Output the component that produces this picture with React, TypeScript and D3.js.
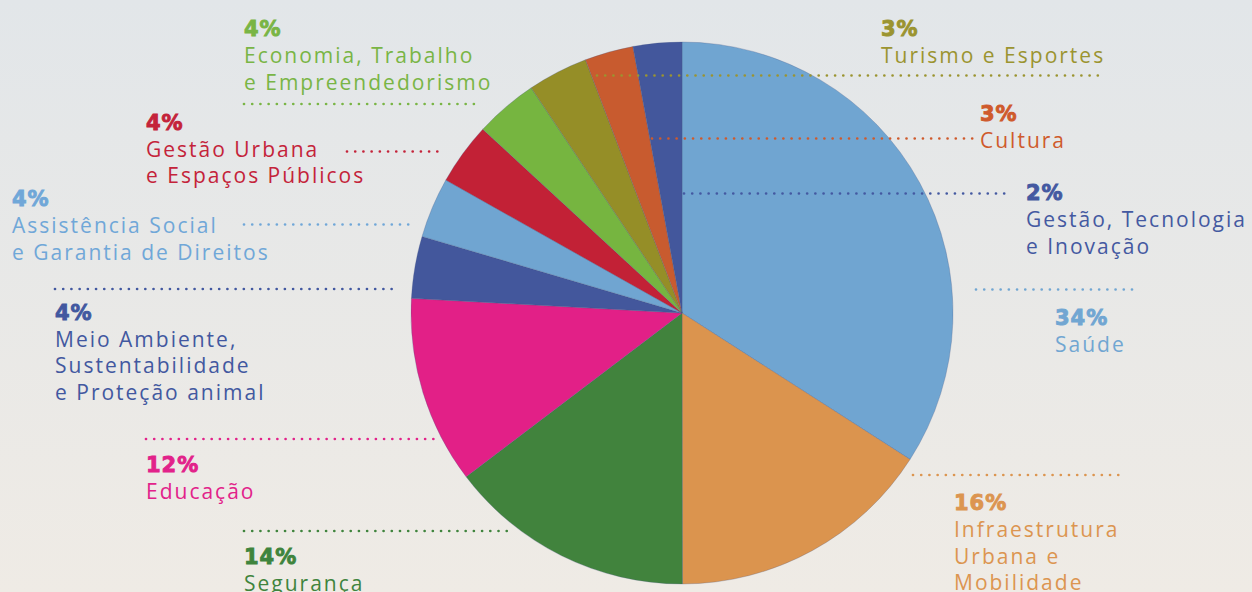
import React from "react";
import * as d3 from "d3";

const categories = [
  "Saúde",
  "Infraestrutura Urbana e Mobilidade",
  "Segurança",
  "Educação",
  "Meio Ambiente, Sustentabilidade e Proteção animal",
  "Assistência Social e Garantia de Direitos",
  "Gestão Urbana e Espaços Públicos",
  "Economia, Trabalho e Empreendedorismo",
  "Turismo e Esportes",
  "Cultura",
  "Gestão, Tecnologia e Inovação",
];
// slice shares as drawn
const shares = [34.1, 15.9, 14.7, 11.2, 3.7, 3.6, 3.7, 3.75, 3.6, 2.9, 2.9];
const pctLabels = ["34%", "16%", "14%", "12%", "4%", "4%", "4%", "4%", "3%", "3%", "2%"];
const labelLines = [
  ["Saúde"],
  ["Infraestrutura", "Urbana e", "Mobilidade"],
  ["Segurança"],
  ["Educação"],
  ["Meio Ambiente,", "Sustentabilidade", "e Proteção animal"],
  ["Assistência Social", "e Garantia de Direitos"],
  ["Gestão Urbana", "e Espaços Públicos"],
  ["Economia, Trabalho", "e Empreendedorismo"],
  ["Turismo e Esportes"],
  ["Cultura"],
  ["Gestão, Tecnologia", "e Inovação"],
];

const sliceColors = [
  "#70a5d1", "#db944e", "#41833d", "#e22087", "#43579c", "#70a5d1",
  "#c22136", "#76b540", "#958e27", "#c85b2f", "#43579c",
];
const textColors = [
  "#71a6d2", "#dc9550", "#3f843d", "#e2228a", "#4258a0", "#70a7d8",
  "#c4233a", "#79b545", "#9b9430", "#cf5a2c", "#4459a1",
];

// layout: label anchor (x, pct baseline y), leader line (x1, x2, y)
const layout = [
  { x: 1055, y: 325, line: [976, 1133, 289.5] },
  { x: 954, y: 510, line: [913, 1125, 475] },
  { x: 244, y: 563.5, line: [244, 508, 531] },
  { x: 146, y: 472, line: [146, 437, 439] },
  { x: 55, y: 319.5, line: [55, 396, 289] },
  { x: 12, y: 206, line: [244, 412, 224.5] },
  { x: 146, y: 129.5, line: [347, 443, 151.5] },
  { x: 244, y: 36, line: [244, 481, 104] },
  { x: 881, y: 36, line: [597, 1101, 75.5] },
  { x: 980, y: 120.5, line: [652, 975, 138.5] },
  { x: 1026, y: 200, line: [684, 1008, 193.5] },
];

const W = 1252;
const H = 592;
const cx = 682;
const cy = 313;
const R = 271;
const LINE_H = 26.5;

export default function App() {
  const pie = d3.pie<number>().sort(null).value((d) => d)(shares);
  const arc = d3.arc<d3.PieArcDatum<number>>().innerRadius(0).outerRadius(R);

  return (
    <svg
      width={W}
      height={H}
      style={{ position: "absolute", left: 0, top: 0, display: "block" }}
      fontFamily="'Open Sans', Lato, sans-serif"
    >
      <defs>
        <linearGradient id="bg" x1="0" y1="0" x2="0" y2="1">
          <stop offset="0" stopColor="#e2e6e9" />
          <stop offset="1" stopColor="#efebe5" />
        </linearGradient>
      </defs>
      <rect width={W} height={H} fill="url(#bg)" />
      <g transform={`translate(${cx},${cy})`}>
        {pie.map((p, i) => (
          <path
            key={i}
            d={arc(p) || ""}
            fill={sliceColors[i]}
            stroke="rgba(70,85,130,0.45)"
            strokeWidth={0.6}
          />
        ))}
      </g>
      {layout.map((l, i) => (
        <line
          key={"l" + i}
          x1={l.line[0]}
          x2={l.line[1]}
          y1={l.line[2]}
          y2={l.line[2]}
          stroke={textColors[i]}
          strokeWidth={2.7}
          strokeLinecap="round"
          strokeDasharray="0.01 8.2"
        />
      ))}
      {layout.map((l, i) => (
        <g key={"t" + i} fill={textColors[i]}>
          <text
            x={l.x}
            y={l.y}
            fontSize={21}
            fontWeight={700}
            fontFamily="'DejaVu Sans', sans-serif"
            letterSpacing={1}
            stroke={textColors[i]}
            strokeWidth={0.9}
          >
            {pctLabels[i]}
          </text>
          {labelLines[i].map((s, j) => (
            <text
              key={j}
              x={l.x}
              y={l.y + 27 + j * LINE_H}
              fontSize={21}
              fontWeight={400}
              letterSpacing={2}
            >
              {s}
            </text>
          ))}
        </g>
      ))}
    </svg>
  );
}
